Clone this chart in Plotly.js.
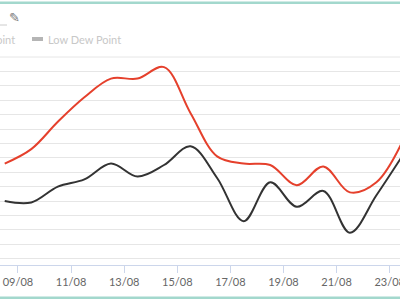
<!DOCTYPE html>
<html>
<head>
<meta charset="utf-8">
<script src="https://cdn.plot.ly/plotly-3.0.1.min.js"></script>
<style>
html,body{margin:0;padding:0;background:#fff;}
#chart{width:400px;height:300px;}
</style>
</head>
<body>
<div id="chart"></div>
<script>
const dates = ['2023-08-08 12:00','2023-08-09 12:00','2023-08-10 12:00','2023-08-11 12:00','2023-08-12 12:00','2023-08-13 12:00','2023-08-14 12:00','2023-08-15 12:00','2023-08-16 12:00','2023-08-17 12:00','2023-08-18 12:00','2023-08-19 12:00','2023-08-20 12:00','2023-08-21 12:00','2023-08-22 12:00','2023-08-23 12:00'];
const highDewPoint = [14.6,15.6,17.5,19.2,20.5,20.5,21.3,18.1,15.1,14.6,14.5,13.1,14.4,12.6,13.3,16.2];
const lowDewPoint = [12.0,11.9,13.0,13.5,14.6,13.7,14.5,15.8,13.6,10.6,13.3,11.6,12.7,9.8,12.4,15.2];
const seriesNames = ['High Dew Point','Low Dew Point'];

const traces = [
  {x: dates, y: highDewPoint, name: seriesNames[0], type: 'scatter', mode: 'lines',
   line: {color: '#e5402c', width: 2, shape: 'spline', smoothing: 1}},
  {x: dates, y: lowDewPoint, name: seriesNames[1], type: 'scatter', mode: 'lines',
   line: {color: '#333333', width: 2, shape: 'spline', smoothing: 1}}
];

const py = v => (265 - v) / 208; // pixel y -> paper y

const layout = {
  width: 400, height: 300,
  margin: {l: 0, r: 0, t: 57, b: 35},
  paper_bgcolor: '#ffffff', plot_bgcolor: '#ffffff',
  showlegend: false,
  xaxis: {
    type: 'date',
    range: ['2023-08-08 07:44', '2023-08-23 09:19'],
    tick0: '2023-08-09', dtick: 2*86400000,
    tickformat: '%d/%m',
    ticklabeloverflow: 'allow',
    showgrid: false, zeroline: false,
    showline: true, linecolor: '#ccd6eb', linewidth: 1,
    ticks: 'outside', ticklen: 7, tickcolor: '#ccd6eb',
    tickfont: {family: 'Lato', size: 11, color: '#666666'}
  },
  yaxis: {
    range: [7.556, 22],
    tick0: 8, dtick: 1,
    showticklabels: false, ticks: '',
    showgrid: true, gridcolor: '#e6e6e6', gridwidth: 1,
    zeroline: false, showline: false
  },
  shapes: [
    {type: 'line', xref: 'paper', yref: 'paper', x0: 0, x1: 1, y0: 1, y1: 1, line: {color: '#e6e6e6', width: 1}},
    {type: 'rect', xref: 'paper', yref: 'paper', x0: 32/400, x1: 43/400, y0: py(41), y1: py(37), line: {width: 0}, fillcolor: '#b5b5b5'},
    {type: 'line', xref: 'paper', yref: 'paper', x0: 0, x1: 7/400, y0: py(25), y1: py(25), line: {color: '#cccccc', width: 1}},
    {type: 'rect', xref: 'paper', yref: 'paper', x0: 0, x1: 1, y0: py(4), y1: py(1.5), line: {width: 0}, fillcolor: '#a3d8cd'},
    {type: 'rect', xref: 'paper', yref: 'paper', x0: 0, x1: 1, y0: py(299), y1: py(296.5), line: {width: 0}, fillcolor: '#a3d8cd'}
  ],
  annotations: [
    {xref: 'paper', yref: 'paper', x: 17/400, y: py(39), xanchor: 'right', yanchor: 'middle',
     text: seriesNames[0], showarrow: false, font: {family: 'Lato', size: 11, color: '#c8c8c8'}},
    {xref: 'paper', yref: 'paper', x: 46/400, y: py(39), xanchor: 'left', yanchor: 'middle',
     text: seriesNames[1], showarrow: false, font: {family: 'Lato', size: 11, color: '#c8c8c8'}},
    {xref: 'paper', yref: 'paper', x: 14/400, y: py(17), xanchor: 'center', yanchor: 'middle',
     text: '\u270E', showarrow: false, font: {family: 'DejaVu Sans', size: 13, color: '#777777'}}
  ]
};

Plotly.newPlot('chart', traces, layout, {displayModeBar: false, staticPlot: true});
</script>
</body>
</html>
